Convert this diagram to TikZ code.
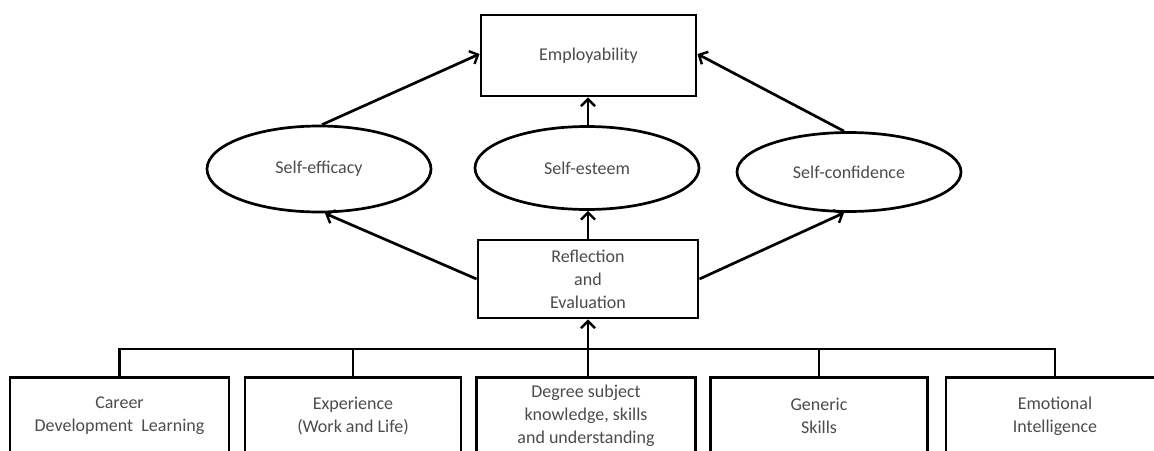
\documentclass[tikz,border=0pt]{standalone}
\usepackage{fontspec}
\setmainfont{Carlito}
\usetikzlibrary{shapes.geometric,arrows.meta}
\begin{document}
\begin{tikzpicture}[x=1pt,y=-1pt,
  every node/.style={font=\fontsize{18}{23}\selectfont, text=black!70},
  box/.style={draw=black, line width=2.9pt, inner sep=0pt, align=center},
  oval/.style={draw=black, ellipse, line width=2.7pt, inner sep=0pt},
  conn/.style={line width=2.7pt, draw=black},
  arr/.style={conn, -{Straight Barb[length=7pt,width=14pt,line width=2.4pt]}}]
\useasboundingbox (0,0) rectangle (1154,450);
\clip (0,0) rectangle (1154,450);
\fill[white] (0,0) rectangle (1154,450);
% top
\node[box, minimum width=215pt, minimum height=81pt] (emp) at (588.5,55.5) {Employability};
\node[oval, minimum width=224pt, minimum height=86pt] (seff) at (319,169) {Self-efficacy};
\node[oval, minimum width=224pt, minimum height=83pt] (sest) at (587,168) {Self-esteem};
\node[oval, minimum width=224pt, minimum height=79pt] (sconf) at (849,172) {Self-confidence};
\node[box, minimum width=220pt, minimum height=78pt] (refl) at (588,279) {Reflection\\and\\Evaluation};
% bottom boxes
\node[box, anchor=north, minimum width=219pt, minimum height=77pt] (c1) at (119.5,376) {Career\\Development\ \ Learning};
\node[box, anchor=north, minimum width=216pt, minimum height=77pt] (c2) at (353,376) {Experience\\(Work and Life)};
\node[box, anchor=north, minimum width=219pt, minimum height=77pt] (c3) at (586,376) {Degree subject\\knowledge, skills\\and understanding};
\node[box, anchor=north, minimum width=217pt, minimum height=77pt] (c4) at (819,376) {Generic\\Skills};
\node[box, anchor=north, minimum width=218pt, minimum height=77pt] (c5) at (1055,376) {Emotional\\Intelligence};
% bus
\coordinate (bus) at (588,349);
\draw[conn, line join=miter] (c1.north) -- (c1.north |- bus) -- (c5.north |- bus) -- (c5.north);
\draw[conn] (c2.north) -- (c2.north |- bus);
\draw[conn] (c4.north) -- (c4.north |- bus);
\draw[conn] (c3.north -| bus) -- (bus);
\draw[arr] (bus) -- (refl.south -| bus);
% arrows up
\draw[arr] (refl.north -| bus) -- (sest.south -| bus);
\draw[arr] (sest.north -| bus) -- (emp.south -| bus);
\draw[arr] (refl.west) -- ([xshift=6pt]seff.south);
\draw[arr] (refl.east) -- ([xshift=-5pt]sconf.south);
\draw[arr] ([xshift=3pt]seff.north) -- ([yshift=1.5pt]emp.west);
\draw[arr] ([xshift=-5pt]sconf.north) -- ([yshift=1.5pt]emp.east);
\end{tikzpicture}
\end{document}
